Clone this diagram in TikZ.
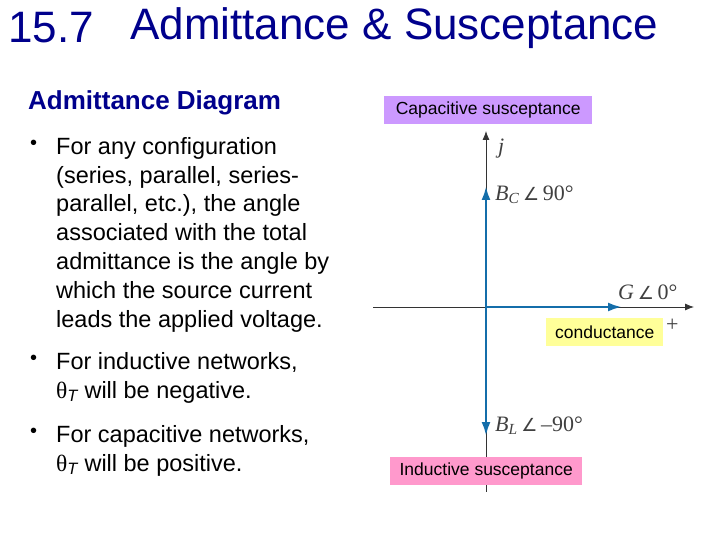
\documentclass[tikz,border=0pt]{standalone}
\usepackage{fontspec}
\setmainfont{Liberation Sans}
\newfontfamily\serifx{Liberation Serif}
\newfontfamily\djv{DejaVu Sans}
\usetikzlibrary{arrows.meta}
\definecolor{navy}{RGB}{0,0,140}
\definecolor{axblue}{RGB}{20,110,170}
\definecolor{capbg}{RGB}{204,153,255}
\definecolor{indbg}{RGB}{255,153,204}
\definecolor{condbg}{RGB}{255,255,153}
\newcommand{\ang}{{\djv\fontsize{18}{20}\selectfont ∠}}
\tikzset{
  body/.style={anchor=north west,align=left,inner sep=0pt,font=\fontsize{23.5}{28.8}\selectfont},
  bul/.style={anchor=north west,inner sep=0pt,font=\fontsize{20}{28.8}\selectfont},
  tag/.style={inner sep=0pt,font=\fontsize{17.5}{19}\selectfont,minimum height=28pt},
  axis/.style={draw=black!80,line width=0.8pt,-{Latex[length=9pt,width=7pt]}},
  vec/.style={draw=axblue,line width=2.6pt,-{Latex[length=14pt,width=9pt]}},
  math/.style={inner sep=0pt,font=\serifx\fontsize{22}{24}\selectfont,text=black!75}
}
\begin{document}
\begin{tikzpicture}[x=1pt,y=-1pt]
\useasboundingbox (0,0) rectangle (720,540);
\node[anchor=west,inner sep=0pt,text=navy,font=\fontsize{44}{46}\selectfont] (title) at (8,28) {15.7};
\node[anchor=west,inner sep=0pt,text=navy,font=\fontsize{44}{46}\selectfont] (title2) at (130,28) {Admittance \& Susceptance};
\node[anchor=west,inner sep=0pt,text=navy,font=\bfseries\fontsize{26}{28}\selectfont] (head) at (28,103) {Admittance Diagram};
\node[bul] (b1) at (30,140) {•};
\node[body] (t1) at (56,137) {For any configuration\\(series, parallel, series-\\parallel, etc.), the angle\\associated with the total\\admittance is the angle by\\which the source current\\leads the applied voltage.};
\node[bul] (b2) at (30,355) {•};
\node[body] (t2) at (56,352) {For inductive networks,\\{\serifx θ}\textsubscript{\itshape T} will be negative.};
\node[bul] (b3) at (30,428) {•};
\node[body] (t3) at (56,425) {For capacitive networks,\\{\serifx θ}\textsubscript{\itshape T} will be positive.};

\coordinate (O) at (486,307);
\coordinate (top) at (486,131);
\coordinate (bot) at (486,492);
\coordinate (left) at (373,307);
\coordinate (right) at (694,307);
\coordinate (bc) at (486,186);
\coordinate (bl) at (486,436);
\coordinate (g) at (622,307);
\draw[draw=black!80,line width=0.8pt] (O) -- (bot);
\draw[axis] (O) -- (top);
\draw[axis] (left) -- (right);
\draw[vec] (O) -- (bc);
\draw[vec] (O) -- (bl);
\draw[vec] (O) -- (g);

\node[math,anchor=west] (j) at (498,149) {\itshape j};
\node[math,anchor=west] (bcl) at (495,195) {\itshape B\textsubscript{C}\,\upshape\ang\,90°};
\node[math,anchor=west] (gl) at (618,292) {\itshape G\,\upshape\ang\,0°};
\node[math,anchor=west] (bll) at (495,426) {\itshape B\textsubscript{L}\,\upshape\ang\,–90°};
\node[math,anchor=west] (plus) at (666,325) {+};

\node[tag,fill=capbg,minimum width=208pt,anchor=north west] (cap) at (384,96) {Capacitive susceptance};
\node[tag,fill=condbg,minimum width=117pt,anchor=north west] (cond) at (546,318) {conductance};
\node[tag,fill=indbg,minimum width=192pt,anchor=north west] (ind) at (390,457) {Inductive susceptance};
\end{tikzpicture}
\end{document}
